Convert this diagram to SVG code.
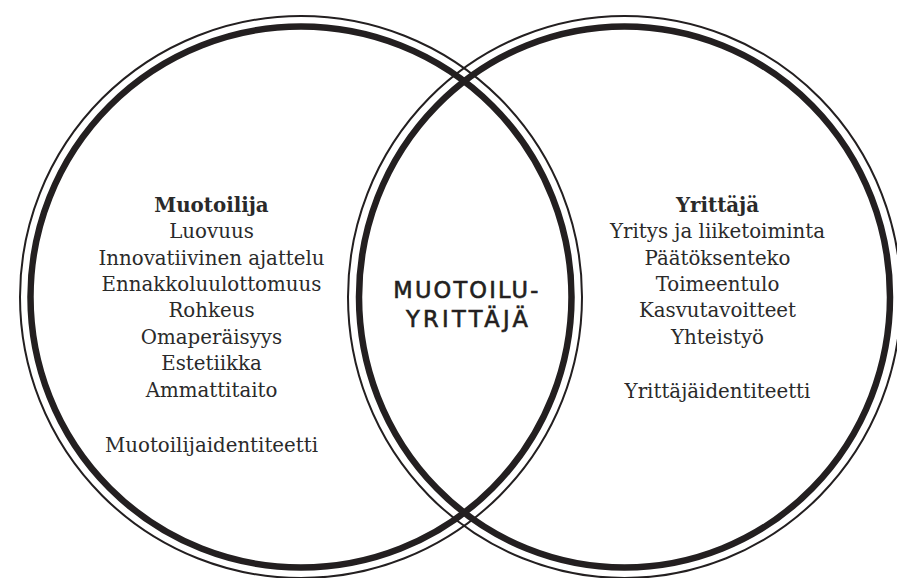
<svg xmlns="http://www.w3.org/2000/svg" width="897" height="578" viewBox="0 0 897 578">
  <style>
    .thick { fill: none; stroke: #231f20; stroke-width: 6.5; }
    .thin { fill: none; stroke: #231f20; stroke-width: 2; }
    .serif { font-family: "DejaVu Serif", "Liberation Serif", serif; font-size: 19.8px; fill: #2a2a2a; text-anchor: middle; }
    .head { font-weight: bold; }
    .center { font-family: "DejaVu Sans", "Lato", sans-serif; font-size: 22.5px; fill: #231f20; stroke: #231f20; stroke-width: 0.6; text-anchor: middle; }
  </style>
  <rect width="897" height="578" fill="#ffffff"/>
  <g id="connectors"></g>
  <g id="muotoilija">
    <circle class="thin" cx="301" cy="297" r="281"/>
    <circle class="thick" cx="301" cy="297" r="270.5"/>
    <text class="serif head" x="211.5" y="211.7">Muotoilija</text>
    <text class="serif" x="211.5" y="238.1">Luovuus</text>
    <text class="serif" x="211.5" y="264.6">Innovatiivinen ajattelu</text>
    <text class="serif" x="211.5" y="291">Ennakkoluulottomuus</text>
    <text class="serif" x="211.5" y="317.4">Rohkeus</text>
    <text class="serif" x="211.5" y="343.9">Omaperäisyys</text>
    <text class="serif" x="211.5" y="370.3">Estetiikka</text>
    <text class="serif" x="211.5" y="396.7">Ammattitaito</text>
    <text class="serif" x="211.5" y="451.7">Muotoilijaidentiteetti</text>
  </g>
  <g id="yrittaja">
    <ellipse class="thin" cx="624.5" cy="297" rx="276.5" ry="281"/>
    <ellipse class="thick" cx="624.5" cy="297" rx="265.5" ry="270.5"/>
    <text class="serif head" x="717.5" y="211.7">Yrittäjä</text>
    <text class="serif" x="717.5" y="238.1">Yritys ja liiketoiminta</text>
    <text class="serif" x="717.5" y="264.6">Päätöksenteko</text>
    <text class="serif" x="717.5" y="291">Toimeentulo</text>
    <text class="serif" x="717.5" y="317.4">Kasvutavoitteet</text>
    <text class="serif" x="717.5" y="343.9">Yhteistyö</text>
    <text class="serif" x="717.5" y="398.3">Yrittäjäidentiteetti</text>
  </g>
  <g id="muotoiluyrittaja">
    <text class="center" x="465.8" y="298.3" textLength="145" lengthAdjust="spacing">MUOTOILU-</text>
    <text class="center" x="467" y="326.7" textLength="122" lengthAdjust="spacing">YRITTÄJÄ</text>
  </g>
</svg>
